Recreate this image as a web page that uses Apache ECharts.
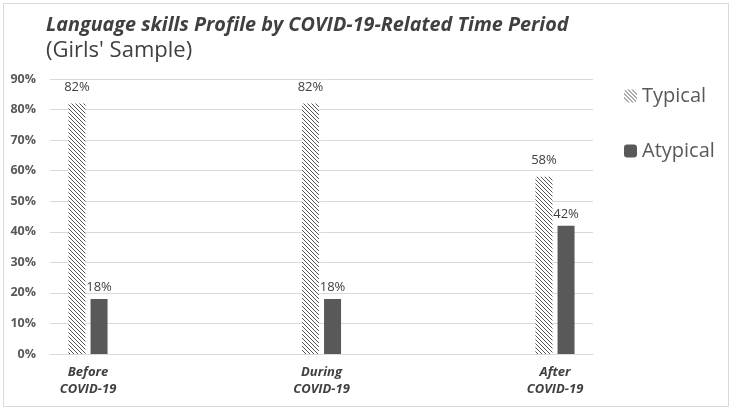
<!DOCTYPE html>
<html><head><meta charset="utf-8">
<script src="https://cdn.jsdelivr.net/npm/echarts@6/dist/echarts.min.js"></script>
<style>html,body{margin:0;padding:0;background:#fff}#c{width:734px;height:412px}</style>
</head><body><div id="c"></div>
<script>
const categories = ['Before\nCOVID-19', 'During\nCOVID-19', 'After\nCOVID-19'];
const seriesNames = ['Typical', 'Atypical'];
const typicalValues = [82, 82, 58];
const atypicalValues = [18, 18, 42];
const yTicks = [0, 10, 20, 30, 40, 50, 60, 70, 80, 90];

function hatch() {
  const c = document.createElement('canvas');
  c.width = 4; c.height = 4;
  const g = c.getContext('2d');
  g.fillStyle = '#ffffff'; g.fillRect(0, 0, 4, 4);
  g.strokeStyle = '#555555'; g.lineWidth = 1;
  g.beginPath();
  g.moveTo(-1, -1); g.lineTo(5, 5);
  g.moveTo(-1, 3); g.lineTo(1, 5);
  g.moveTo(3, -1); g.lineTo(5, 1);
  g.stroke();
  return c;
}
const pat = { image: hatch(), repeat: 'repeat' };
const font = '"Open Sans", sans-serif';

const chart = echarts.init(document.getElementById('c'), null, { renderer: 'canvas' });
chart.setOption({
  animation: false,
  backgroundColor: '#fff',
  graphic: [{ type: 'rect', shape: { x: 3.5, y: 3.5, width: 725, height: 403 }, style: { fill: 'none', stroke: '#d9d9d9', lineWidth: 1 }, z: -1 }],
  title: [
    { text: 'Language skills Profile by COVID-19-Related Time Period', left: 41, top: 10,
      textStyle: { fontFamily: font, fontSize: 19.8, fontWeight: 'bold', fontStyle: 'italic', color: '#404040' } },
    { text: "(Girls' Sample)", left: 41, top: 35,
      textStyle: { fontFamily: font, fontSize: 22, fontWeight: 'normal', color: '#404040' } }
  ],
  legend: {
    orient: 'vertical', left: 619, top: 81, itemGap: 35, itemWidth: 13, itemHeight: 13,
    data: seriesNames,
    textStyle: { fontFamily: font, fontSize: 20, color: '#595959' }
  },
  grid: [
    { left: 50, right: 141, top: 79, bottom: 58 },
    { left: 88, right: 179, top: 79, bottom: 58 }
  ],
  xAxis: [
    { type: 'category', gridIndex: 0, data: ['a'], axisLine: { lineStyle: { color: '#d9d9d9' } },
      axisTick: { show: false }, axisLabel: { show: false } },
    { type: 'category', gridIndex: 1, data: categories, boundaryGap: false,
      axisLine: { show: false }, axisTick: { show: false },
      axisLabel: { fontFamily: font, fontSize: 13, fontWeight: 'bold', fontStyle: 'italic', color: '#404040', lineHeight: 17, margin: 10 } }
  ],
  yAxis: [
    { type: 'value', gridIndex: 0, min: 0, max: 90, interval: 10,
      axisLine: { show: false }, axisTick: { show: false },
      splitLine: { lineStyle: { color: '#d9d9d9' } },
      axisLabel: { fontFamily: font, fontSize: 12.5, fontWeight: 'bold', color: '#595959', margin: 14,
        formatter: v => yTicks.includes(v) ? v + '%' : '' } },
    { type: 'value', gridIndex: 1, min: 0, max: 90, interval: 10, show: false }
  ],
  series: [
    { name: seriesNames[0], type: 'bar', xAxisIndex: 1, yAxisIndex: 1, data: typicalValues,
      barWidth: 17, barGap: '30%', itemStyle: { color: pat },
      label: { show: true, position: 'top', distance: 10, formatter: '{c}%', fontFamily: font, fontSize: 13, color: '#404040' } },
    { name: seriesNames[1], type: 'bar', xAxisIndex: 1, yAxisIndex: 1, data: atypicalValues,
      barWidth: 17, itemStyle: { color: '#595959' },
      label: { show: true, position: 'top', distance: 5, formatter: '{c}%', fontFamily: font, fontSize: 13, color: '#404040' } }
  ]
});
</script></body></html>
